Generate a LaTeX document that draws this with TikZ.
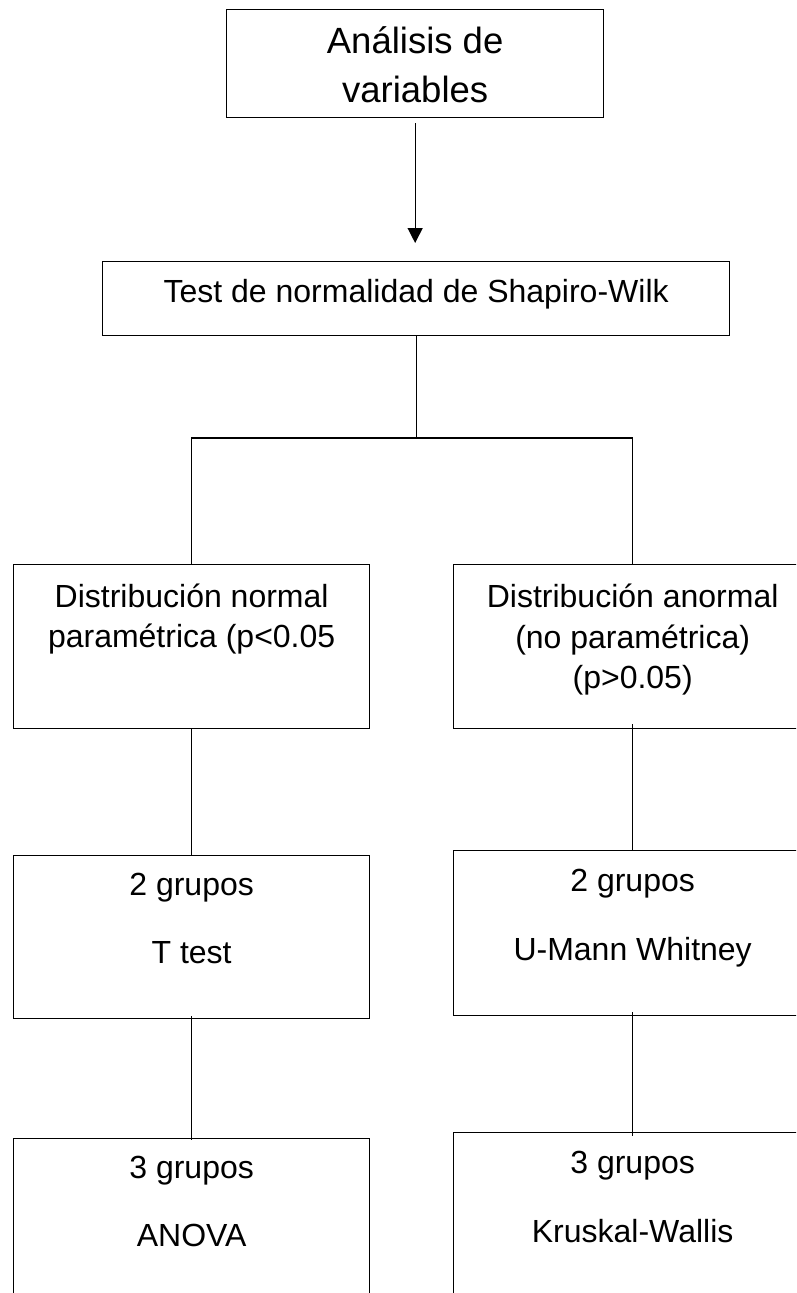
\documentclass[tikz,border=0pt]{standalone}
\usepackage{fontspec}
\setmainfont{Liberation Sans}
\usetikzlibrary{arrows.meta}
\newcommand{\bxc}[4]{\parbox[c][#2][t]{#1}{\centering\leavevmode\vrule height #3 depth 0pt width 0pt\relax #4}}
\begin{document}
\begin{tikzpicture}[x=1pt,y=-1pt,
  boxnode/.style={draw, line width=1.3pt, inner sep=0pt, anchor=north west},
  conn/.style={line width=1.3pt}]
\useasboundingbox (0,0) rectangle (796,1293);
\clip (0,0) rectangle (796,1293);
\node[boxnode] (top) at (226,9) {\fontsize{36.5}{49}\selectfont\bxc{377pt}{108pt}{44pt}{Análisis de\\variables}};
\node[boxnode] (test) at (102,261) {\fontsize{32}{40}\selectfont\bxc{627pt}{74pt}{41pt}{Test de normalidad de Shapiro-Wilk}};
\node[boxnode] (L1) at (13,564) {\fontsize{32}{40}\selectfont\bxc{356pt}{164pt}{43pt}{Distribución normal\\paramétrica (p<0.05}};
\node[boxnode] (R1) at (453,564) {\fontsize{32}{40.5}\selectfont\bxc{358pt}{164pt}{43pt}{Distribución anormal\\(no paramétrica)\\(p>0.05)}};
\node[boxnode] (L2) at (13,855) {\fontsize{32}{68}\selectfont\bxc{356pt}{163pt}{40pt}{2 grupos\\T test}};
\node[boxnode] (R2) at (453,850) {\fontsize{32}{69}\selectfont\bxc{358pt}{165pt}{41pt}{2 grupos\\U-Mann Whitney}};
\node[boxnode] (L3) at (13,1138) {\fontsize{32}{68}\selectfont\bxc{356pt}{164pt}{40pt}{3 grupos\\ANOVA}};
\node[boxnode] (R3) at (453,1132) {\fontsize{32}{69}\selectfont\bxc{358pt}{164pt}{41pt}{3 grupos\\Kruskal-Wallis}};
\coordinate (barY) at (0,438);
\draw[conn, -{Triangle[length=15pt,width=15pt]}, shorten <=5pt, shorten >=18pt] (top.south) -- (top.south |- test.north);
\draw[conn] (test.south) -- (test.south |- barY);
\draw[conn] (L1.north) -- (L1.north |- barY) -- (R1.north |- barY) -- (R1.north);
\draw[conn] (L1.south) -- (L2.north);
\draw[conn, shorten <=-5pt] (R1.south) -- (R2.north);
\draw[conn, shorten <=-3pt, shorten >=-2pt] (L2.south) -- (L3.north);
\draw[conn, shorten <=-4pt, shorten >=-4pt] (R2.south) -- (R3.north);
\end{tikzpicture}
\end{document}
